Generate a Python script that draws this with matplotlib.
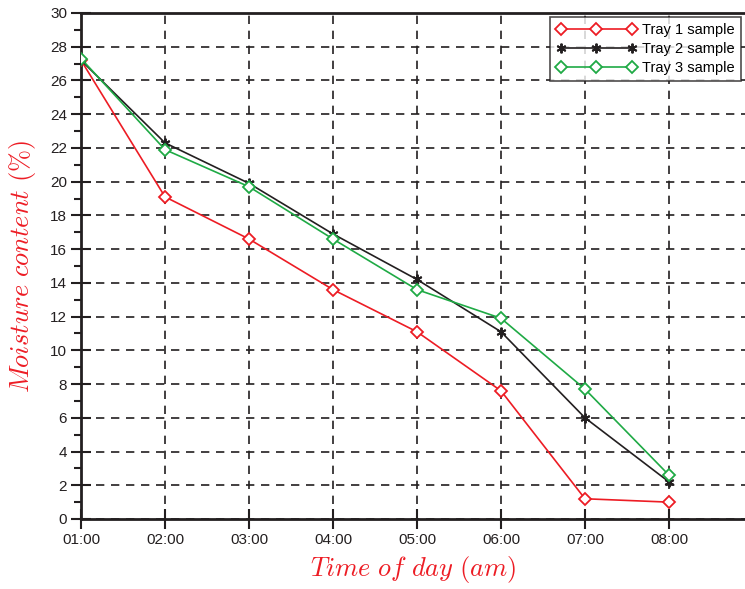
import matplotlib.pyplot as plt
from matplotlib.ticker import MultipleLocator

times = ['01:00', '02:00', '03:00', '04:00', '05:00', '06:00', '07:00', '08:00']
hours = [1, 2, 3, 4, 5, 6, 7, 8]

tray1 = [27.2, 19.1, 16.6, 13.6, 11.1, 7.6, 1.2, 1.0]
tray2 = [27.2, 22.3, 19.9, 16.9, 14.2, 11.1, 6.0, 2.2]
tray3 = [27.3, 21.9, 19.7, 16.6, 13.6, 11.9, 7.7, 2.6]

plt.rcParams['mathtext.fontset'] = 'cm'
plt.rcParams['font.family'] = ['Liberation Sans', 'DejaVu Sans']

fig = plt.figure(figsize=(7.45, 5.89), dpi=100)
ax = fig.add_axes([81 / 745, 70 / 589, 1 - 81 / 745, (519 - 13) / 589])

red = '#ed1c24'
green = '#1faa45'
black = '#231f20'

ax.plot(hours, tray1, color=red, lw=1.2, marker='D', markersize=6,
        markerfacecolor='white', markeredgecolor=red, markeredgewidth=1.3,
        label='Tray 1 sample', zorder=3)
ax.plot(hours, tray2, color=black, lw=1.2, marker=(6, 2, 0), markersize=7,
        markeredgewidth=1.4, markeredgecolor=black,
        label='Tray 2 sample', zorder=3)
ax.plot(hours, tray3, color=green, lw=1.2, marker='D', markersize=6,
        markerfacecolor='white', markeredgecolor=green, markeredgewidth=1.3,
        label='Tray 3 sample', zorder=3)

ax.set_xlim(1, 8.905)
ax.set_ylim(0, 30)
ax.set_xticks(hours)
ax.set_xticklabels(times)
ax.set_yticks(range(0, 31, 2))
ax.yaxis.set_minor_locator(MultipleLocator(1))

ax.grid(True, which='major', color=black, linestyle=(0, (5, 4)), lw=1.2)
ax.set_axisbelow(True)

for side in ['left', 'bottom', 'top']:
    ax.spines[side].set_linewidth(2)
    ax.spines[side].set_color(black)
ax.spines['right'].set_visible(False)

ax.tick_params(which='major', direction='inout', length=14, width=1.5,
               labelsize=11, colors=black, pad=3)
ax.tick_params(which='minor', direction='out', length=5, width=1.5, colors=black)
ax.tick_params(top=False, right=False)

ax.set_xlabel(r'$Time\ of\ day\ (am)$', color=red, fontsize=19, labelpad=5)
ax.set_ylabel(r'$Moisture\ content\ (\%)$', color=red, fontsize=19, labelpad=9)

leg = ax.legend(loc='upper right', numpoints=3, handlelength=5.5, fontsize=10.5,
                frameon=True, fancybox=False, edgecolor=black,
                borderaxespad=0.3, handletextpad=0.4, labelspacing=0.35)
leg.get_frame().set_linewidth(1.2)

plt.savefig('out.png', dpi=100)
